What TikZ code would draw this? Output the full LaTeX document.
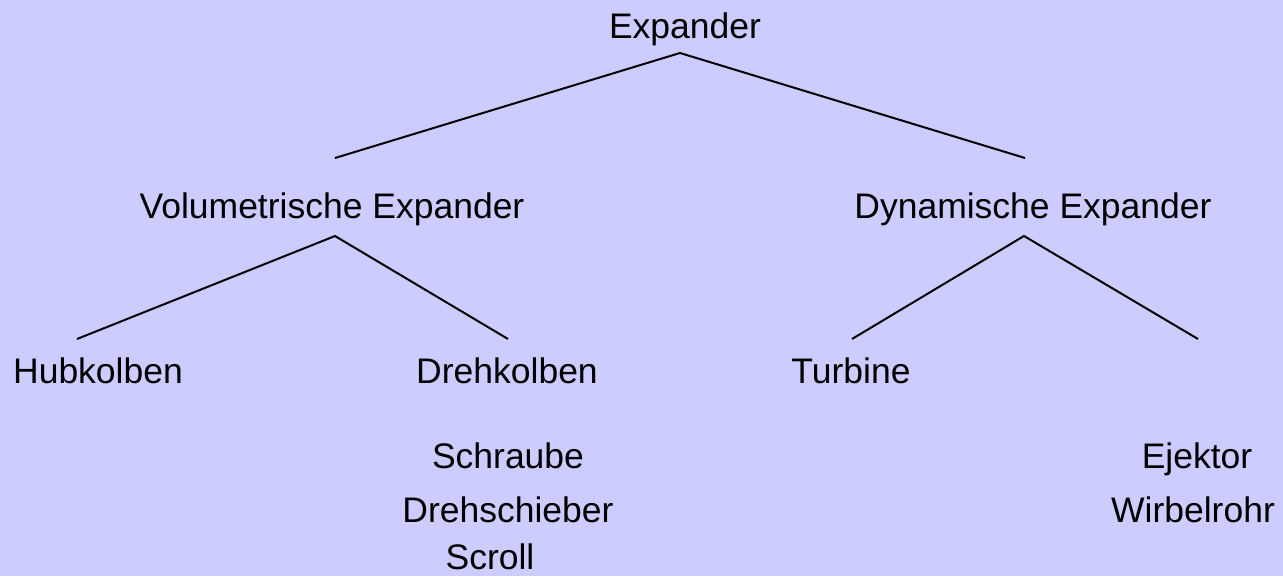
\documentclass[tikz,border=0pt]{standalone}
\usepackage{fontspec}
\setmainfont{Liberation Sans}
\definecolor{panelbg}{RGB}{204,204,255}
\begin{document}
\begin{tikzpicture}[x=1pt,y=-1pt,
  label/.style={anchor=base,inner sep=0pt,font=\fontsize{35.5}{40}\selectfont},
  branch/.style={draw=black,line width=2pt}]
  % background panel
  \fill[panelbg] (0,0) rectangle (1283,576);
  \useasboundingbox (0,0) rectangle (1283,576);

  % tree labels
  \node[label] (ex)   at (685,38)  {Expander};
  \node[label] (vol)  at (332,218) {Volumetrische Expander};
  \node[label] (dyn)  at (1033,218) {Dynamische Expander};
  \node[label] (hub)  at (98,383)  {Hubkolben};
  \node[label] (dreh) at (507,383) {Drehkolben};
  \node[label] (turb) at (851,383) {Turbine};
  \node[label] (schr) at (508,468) {Schraube};
  \node[label] (dsch) at (508,522) {Drehschieber};
  \node[label] (scr)  at (490,569) {Scroll};
  \node[label] (ejk)  at (1197,468) {Ejektor};
  \node[label] (wir)  at (1193,522) {Wirbelrohr};

  % attachment points of the branches
  \coordinate (ex-foot)   at (680,53);
  \coordinate (vol-head)  at (335,158);
  \coordinate (dyn-head)  at (1025,158);
  \coordinate (vol-foot)  at (335,236);
  \coordinate (dyn-foot)  at (1024,236);
  \coordinate (hub-head)  at (77,339);
  \coordinate (dreh-head) at (508,339);
  \coordinate (turb-head) at (852,339);
  \coordinate (dyn-right) at (1198,339);

  % branches
  \draw[branch] (vol-head) -- (ex-foot) -- (dyn-head);
  \draw[branch] (hub-head) -- (vol-foot) -- (dreh-head);
  \draw[branch] (turb-head) -- (dyn-foot) -- (dyn-right);
\end{tikzpicture}
\end{document}
